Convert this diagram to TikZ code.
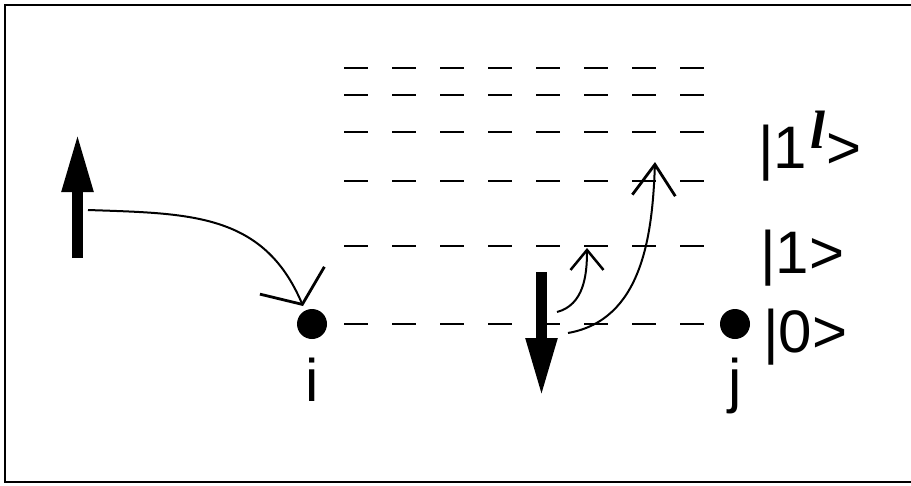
\documentclass[tikz,border=0pt]{standalone}
\usepackage{fontspec}
\setmainfont{Liberation Sans}
\newfontfamily\ellfont{Liberation Serif}
\usepackage{tikz}
\usetikzlibrary{arrows.meta,positioning}

\begin{document}
\begin{tikzpicture}[
        x=1pt, y=1pt,
        node distance=19pt,
        site/.style={
            circle,
            fill,
            inner sep=0pt,
            minimum size=30pt
        },
        sitelabel/.style={
            inner sep=0pt,
            font=\fontsize{60}{72}\selectfont
        },
        level/.style={
            anchor=base west,
            inner sep=0pt,
            font=\fontsize{60}{72}\selectfont
        },
        levelline/.style={line width=2.3pt, dash pattern=on 24pt off 24pt},
        spin/.style={line width=11pt, -{Triangle[length=59pt,width=29pt]}},
        hop/.style={line width=2pt, -{Straight Barb[length=26pt,width=70pt,line width=2.8pt]}},
        excite/.style={line width=2pt, -{Straight Barb[length=20pt,width=33pt,line width=2.5pt]}},
        bigexcite/.style={line width=2pt, -{Straight Barb[length=31pt,width=43pt,line width=2.8pt]}}
    ]
        \useasboundingbox (0,0) rectangle (911,-485);
        \draw[line width=2pt] (5,-5) rectangle (920,-482);

        % energy levels
        \foreach \yy in {68,95,132,181,246,324}
            \draw[levelline] (344,-\yy) -- (704,-\yy);

        \node[site] (idot) at (312,-324) {};
        \node[site] (jdot) at (735,-324) {};
        \node[sitelabel, below=of idot] (ilabel) {i};
        \node[sitelabel, below=of jdot] (jlabel) {j};

        \node[level] (lvlell) at (758,-168) {|1\raisebox{20pt}{\fontsize{54}{58}\selectfont\ellfont\bfseries\itshape\kern3pt l\kern1pt}>};
        \node[level] (lvlone) at (760,-273) {|1>};
        \node[level] (lvlzero) at (763,-352) {|0>};

        % spins
        \coordinate (upbase) at (77.5,-258);
        \coordinate (uptip) at (77.5,-133);
        \coordinate (downbase) at (541.5,-272);
        \coordinate (downtip) at (541.5,-397);
        \draw[spin] (upbase) -- (uptip);
        \draw[spin] (downbase) -- (downtip);

        \coordinate (hopstart) at (88,-210);
        \coordinate (onestart) at (557,-312);
        \coordinate (onetip) at (587,-248);
        \coordinate (ellstart) at (568,-333);
        \coordinate (elltip) at (655,-162);

        \draw[hop] (hopstart) to[out=-2, in=113, looseness=1.1] (303,-306);
        \draw[excite] (onestart) to[out=15, in=-90] (onetip);
        \draw[bigexcite] (ellstart) to[out=10, in=-92] (elltip);
    \end{tikzpicture}
\end{document}
